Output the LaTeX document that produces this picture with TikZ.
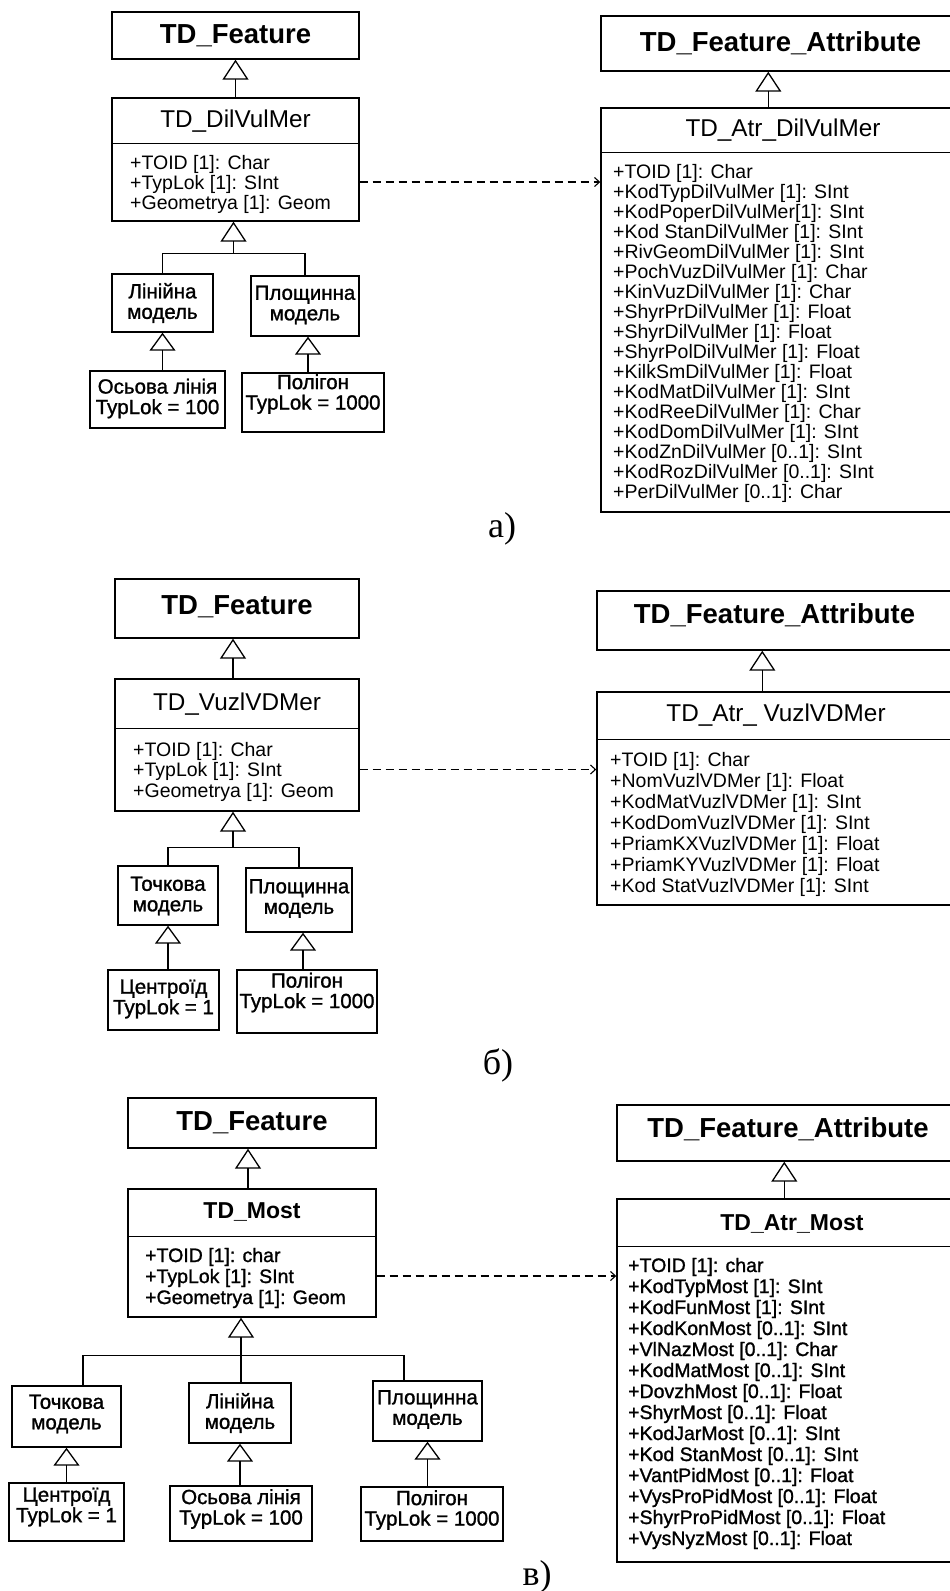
\documentclass[tikz,border=0pt]{standalone}
\usepackage{fontspec}
\setmainfont{Liberation Sans}
\newfontfamily\heavyfont{Liberation Sans}[FakeBold=1.2]
\newfontfamily\lblfont{Liberation Serif}
\usetikzlibrary{arrows.meta,calc}

% rectangle node given by its corners: name, x1, y1, x2, y2
\newcommand\ubox[5]{%
  \node[cbox, minimum width={#4-#2}, minimum height={#5-#3}] (#1)
    at ({(#2+#4)/2},{(#3+#5)/2}) {};}

\tikzset{
  cbox/.style={draw, rectangle, line width=1.4pt, inner sep=0pt},
  link/.style={draw, line width=1.4pt},
  gen/.style={link, -{Triangle[open, length=20pt, width=26pt, line width=1.3pt]}},
  gens/.style={link, -{Triangle[open, length=18pt, width=26pt, line width=1.3pt]}},
  dep/.style={draw, line width=1.1pt, dash pattern=on 8pt off 5pt,
    -{Straight Barb[length=5pt, width=9pt, line width=1.1pt]}},
  bigtitle/.style={font=\bfseries\fontsize{27.5}{30}\selectfont, inner sep=0pt},
  title/.style={font=\fontsize{24.3}{26}\selectfont, inner sep=0pt},
  btitle/.style={font=\bfseries\fontsize{23}{26}\selectfont, inner sep=0pt},
  attr/.style={font=\fontsize{19.5}{20}\selectfont, anchor=west, inner sep=0pt,
    text height=14pt, text depth=0pt},
  hattr/.style={attr, font=\heavyfont\fontsize{19.5}{20}\selectfont},
  mtext/.style={font=\heavyfont\fontsize{20.5}{20.5}\selectfont, align=center, inner sep=0pt},
  lbl/.style={font=\lblfont\fontsize{36}{40}\selectfont, inner sep=0pt}
}

\begin{document}
\begin{tikzpicture}[x=1pt, y=-1pt]
\clip (0,0) rectangle (950,1591);
\fill[white] (0,0) rectangle (950,1591);

% ---------------- a) TD_DilVulMer ----------------
\ubox{fa}{112}{12}{359}{59}
\node[bigtitle] (faT) at (fa) {TD\_Feature};
\ubox{ca}{112}{98}{359}{221}
\draw[link] ($(ca.north west)+(0,46)$) -- ($(ca.north east)+(0,46)$);
\node[title] (caT) at (235.5,121) {TD\_DilVulMer};
\foreach \atxt [count=\n] in {{+TOID [1]: Char},{+TypLok [1]:  SInt},{+Geometrya [1]: Geom}}
  \node[attr] (caL\n) at (130,{162+20*(\n-1)}) {\atxt};
\draw[gen] (ca.north) -- (fa.south);

\coordinate (ja) at ($(ca.south)+(-2,32)$);
\ubox{la}{112}{274}{213}{332}
\node[mtext] (laT) at (la) {Лінійна\\модель};
\ubox{pa}{251}{276}{359}{336}
\node[mtext] (paT) at (305,305) {Площинна\\модель};
\draw[link] (la.north) |- (ja) -| (pa.north);
\draw[gen] (ja) -- (ja |- ca.south);

\ubox{oa}{90}{371}{225}{428}
\node[mtext] (oaT) at (157.5,398.5) {Осьова лінія\\TypLok = 100};
\ubox{pga}{242}{373}{384}{432}
\node[mtext] (pgaT) at (313,394) {Полігон\\TypLok = 1000};
\draw[gens] (oa.north -| la.south) -- (la.south);
\coordinate (xa) at ($(pa.south)+(3,0)$);
\draw[gens] (pga.north -| xa) -- (xa);

\ubox{faa}{601}{16}{955}{71}
\node[bigtitle] (faaT) at (780.5,43) {TD\_Feature\_Attribute};
\ubox{aa}{601}{108}{955}{512}
\draw[link] ($(aa.north west)+(0,45)$) -- ($(aa.north east)+(0,45)$);
\node[title] (aaT) at (783,130) {TD\_Atr\_DilVulMer};
\foreach \atxt [count=\n] in {{+TOID [1]: Char},{+KodTypDilVulMer [1]:  SInt},
  {+KodPoperDilVulMer[1]:  SInt},{+Kod StanDilVulMer [1]:  SInt},
  {+RivGeomDilVulMer [1]:  SInt},{+PochVuzDilVulMer [1]: Char},
  {+KinVuzDilVulMer [1]: Char},{+ShyrPrDilVulMer [1]: Float},
  {+ShyrDilVulMer [1]: Float},{+ShyrPolDilVulMer [1]: Float},
  {+KilkSmDilVulMer [1]: Float},{+KodMatDilVulMer [1]: SInt},
  {+KodReeDilVulMer [1]: Char},{+KodDomDilVulMer [1]: SInt},
  {+KodZnDilVulMer [0..1]: SInt},{+KodRozDilVulMer [0..1]: SInt},
  {+PerDilVulMer [0..1]: Char}}
  \node[attr] (aaL\n) at (613,{171+20*(\n-1)}) {\atxt};
\coordinate (xaa) at ($(aa.north west)+(168,0)$);
\draw[gen] (xaa) -- (xaa |- faa.south);
\draw[dep] (ca.east |- caL2) -- (aa.west |- caL2);

\node[lbl] (labA) at (502,529) {а)};

% ---------------- b) TD_VuzlVDMer ----------------
\ubox{fb}{115}{579}{359}{638}
\node[bigtitle] (fbT) at (237,607) {TD\_Feature};
\ubox{cb}{115}{679}{359}{811}
\draw[link] ($(cb.north west)+(0,50)$) -- ($(cb.north east)+(0,50)$);
\node[title] (cbT) at (237,704) {TD\_VuzlVDMer};
\foreach \atxt [count=\n] in {{+TOID [1]: Char},{+TypLok [1]:  SInt},{+Geometrya [1]: Geom}}
  \node[attr] (cbL\n) at (133,{749+20.5*(\n-1)}) {\atxt};
\coordinate (xb) at ($(cb.north)+(-4,0)$);
\draw[gen] (xb) -- (xb |- fb.south);

\coordinate (jb) at ($(cb.south)+(-4,36)$);
\ubox{tb}{118}{866}{218}{925}
\node[mtext] (tbT) at (168,896) {Точкова\\модель};
\ubox{pb}{246}{868}{352}{932}
\node[mtext] (pbT) at (299,898.5) {Площинна\\модель};
\draw[link] (tb.north) |- (jb) -| (pb.north);
\draw[gen] (jb) -- (jb |- cb.south);

\ubox{ceb}{108}{970}{219}{1030}
\node[mtext] (cebT) at (163.5,999) {Центроїд\\TypLok = 1};
\ubox{pgb}{237}{970}{377}{1033}
\node[mtext] (pgbT) at (307,992.5) {Полігон\\TypLok = 1000};
\draw[gens] (ceb.north -| tb.south) -- (tb.south);
\coordinate (xpb) at ($(pb.south)+(4,0)$);
\draw[gens] (pgb.north -| xpb) -- (xpb);

\ubox{fab}{597}{591}{955}{650}
\node[bigtitle] (fabT) at (774.5,615) {TD\_Feature\_Attribute};
\ubox{ab}{597}{692}{955}{905}
\draw[link] ($(ab.north west)+(0,48)$) -- ($(ab.north east)+(0,48)$);
\node[title] (abT) at (776,715) {TD\_Atr\_ VuzlVDMer};
\foreach \atxt [count=\n] in {{+TOID [1]: Char},{+NomVuzlVDMer [1]: Float},
  {+KodMatVuzlVDMer [1]:  SInt},{+KodDomVuzlVDMer [1]:  SInt},
  {+PriamKXVuzlVDMer [1]: Float},{+PriamKYVuzlVDMer [1]: Float},
  {+Kod StatVuzlVDMer [1]:  SInt}}
  \node[attr] (abL\n) at (610,{759+21*(\n-1)}) {\atxt};
\coordinate (xab) at ($(ab.north west)+(166,0)$);
\draw[gen] (xab) -- (xab |- fab.south);
\draw[dep] (cb.east |- cbL2) -- (ab.west |- cbL2);

\node[lbl] (labB) at (498,1065) {б)};

% ---------------- c) TD_Most ----------------
\ubox{fc}{128}{1098}{376}{1148}
\node[bigtitle] (fcT) at (252,1123) {TD\_Feature};
\ubox{cc}{128}{1189}{376}{1317}
\draw[link] ($(cc.north west)+(0,48)$) -- ($(cc.north east)+(0,48)$);
\node[btitle] (ccT) at (252,1212) {TD\_Most};
\foreach \atxt [count=\n] in {{+TOID [1]: char},{+TypLok [1]:  SInt},{+Geometrya [1]: Geom}}
  \node[hattr] (ccL\n) at (145,{1255+21*(\n-1)}) {\atxt};
\coordinate (xc) at ($(cc.north)+(-4,0)$);
\draw[gen] (xc) -- (xc |- fc.south);

\coordinate (jc) at ($(cc.south)+(-11,38)$);
\coordinate (bl) at ($(jc)+(-158,0)$);
\coordinate (br) at ($(jc)+(163,0)$);
\ubox{tc}{12}{1386}{121}{1447}
\node[mtext] (tcT) at (66.5,1414) {Точкова\\модель};
\ubox{lc}{189}{1383}{291}{1443}
\node[mtext] (lcT) at (240,1413) {Лінійна\\модель};
\ubox{pc}{373}{1381}{482}{1441}
\node[mtext] (pcT) at (427.5,1409.5) {Площинна\\модель};
\draw[link] (tc.north -| bl) -- (bl) -- (br) -- (br |- pc.north);
\draw[link] (lc.north -| jc) -- (jc);
\draw[gen] (jc) -- (jc |- cc.south);

\ubox{cec}{9}{1483}{124}{1541}
\node[mtext] (cecT) at (66.5,1507) {Центроїд\\TypLok = 1};
\ubox{oc}{170}{1486}{312}{1541}
\node[mtext] (ocT) at (241,1509) {Осьова лінія\\TypLok = 100};
\ubox{pgc}{361}{1487}{503}{1541}
\node[mtext] (pgcT) at (432,1510) {Полігон\\TypLok = 1000};
\draw[gens] (cec.north -| tc.south) -- (tc.south);
\draw[gens] (oc.north -| lc.south) -- (lc.south);
\draw[gens] (pgc.north -| pc.south) -- (pc.south);

\ubox{fac}{617}{1105}{955}{1161}
\node[bigtitle] (facT) at (788,1129) {TD\_Feature\_Attribute};
\ubox{ac}{617}{1199}{955}{1562}
\draw[link] ($(ac.north west)+(0,48)$) -- ($(ac.north east)+(0,48)$);
\node[btitle] (acT) at (792,1224) {TD\_Atr\_Most};
\foreach \atxt [count=\n] in {{+TOID [1]: char},{+KodTypMost [1]:  SInt},
  {+KodFunMost [1]:  SInt},{+KodKonMost [0..1]:  SInt},
  {+VlNazMost [0..1]: Char},{+KodMatMost [0..1]:  SInt},
  {+DovzhMost [0..1]: Float},{+ShyrMost [0..1]: Float},
  {+KodJarMost [0..1]:  SInt},{+Kod StanMost [0..1]:  SInt},
  {+VantPidMost [0..1]: Float},{+VysProPidMost [0..1]: Float},
  {+ShyrProPidMost [0..1]: Float},{+VysNyzMost [0..1]: Float}}
  \node[hattr] (acL\n) at (628,{1265+21*(\n-1)}) {\atxt};
\coordinate (xac) at ($(ac.north west)+(168,0)$);
\draw[gen] (xac) -- (xac |- fac.south);
\draw[dep] (cc.east |- ccL2) -- (ac.west |- ccL2);

\node[lbl] (labC) at (537,1577) {в)};
\end{tikzpicture}
\end{document}
